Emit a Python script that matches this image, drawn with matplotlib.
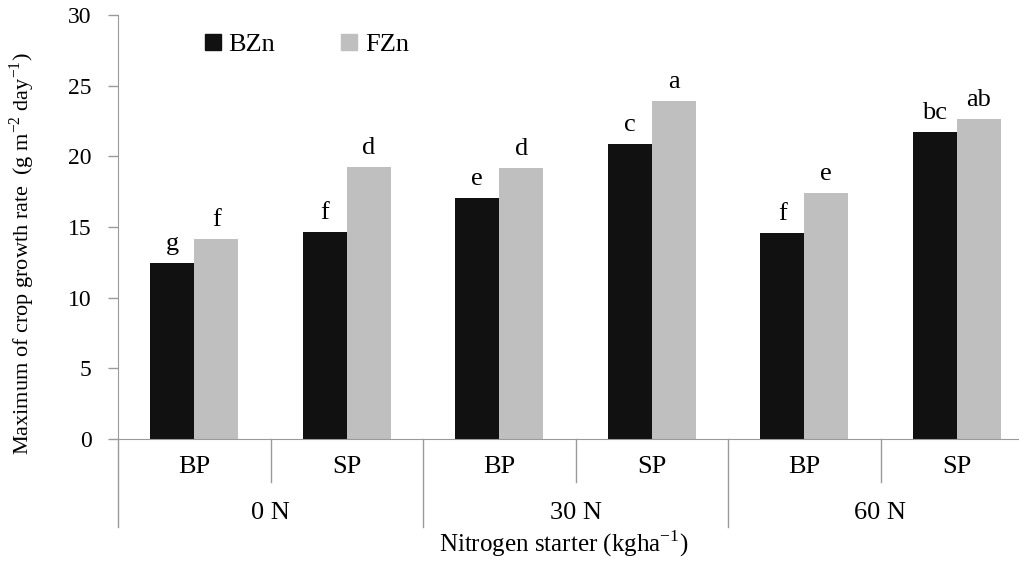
import matplotlib.pyplot as plt
from matplotlib.patches import Patch
import numpy as np

plt.rcParams['font.family'] = ['Liberation Serif', 'DejaVu Serif']
plt.rcParams['mathtext.fontset'] = 'custom'
plt.rcParams['mathtext.rm'] = 'Liberation Serif'

#data
groups = ['0 N', '30 N', '60 N']
subgroups = ['BP', 'SP', 'BP', 'SP', 'BP', 'SP']
bzn = [12.45, 14.65, 17.03, 20.87, 14.58, 21.72]
fzn = [14.17, 19.22, 19.15, 23.9, 17.43, 22.64]
bzn_letters = ['g', 'f', 'e', 'c', 'f', 'bc']
fzn_letters = ['f', 'd', 'd', 'a', 'e', 'ab']

W, H = 1019, 562
fig = plt.figure(figsize=(W/100, H/100), dpi=100)
#axes runs off the right edge like the original
ax = fig.add_axes([118/W, (H-439)/H, (1033-118)/W, 424/H])

axcol = '#9a9a9a'
x = np.arange(len(subgroups)) + 0.5
bw = 0.29
ax.bar(x - bw/2, bzn, bw, color='#111111', label='BZn')
ax.bar(x + bw/2, fzn, bw, color='#bfbfbf', label='FZn')

for xi, v, s in zip(x - bw/2, bzn, bzn_letters):
    ax.annotate(s, (xi, v), xytext=(0, 9.4), textcoords='offset points',
                ha='center', va='baseline', fontsize=19)
for xi, v, s in zip(x + bw/2, fzn, fzn_letters):
    ax.annotate(s, (xi, v), xytext=(0, 9.4), textcoords='offset points',
                ha='center', va='baseline', fontsize=19)

ax.set_xlim(0, len(subgroups))
ax.set_ylim(0, 30)
ax.set_yticks(np.arange(0, 31, 5))
ax.set_xticks([])
ax.tick_params(axis='y', direction='out', length=7, width=1, color=axcol,
               pad=12, labelsize=17)
for side in ['top', 'right']:
    ax.spines[side].set_visible(False)
ax.spines['left'].set_color(axcol)
ax.spines['bottom'].set_color(axcol)

#two level category axis underneath
upp = 30/424.  #data units per pixel
for i in range(len(subgroups) + 1):
    depth = 88 if i % 2 == 0 else 43
    ax.plot([i, i], [0, -depth*upp], color=axcol, lw=1, clip_on=False)
for xi, s in zip(x, subgroups):
    ax.text(xi, -28*upp, s, ha='center', va='center', fontsize=19)
for i, g in enumerate(groups):
    ax.text(2*i + 1, -74*upp, g, ha='center', va='center', fontsize=19)

fig.text(564/W, 1 - 544/H, 'Nitrogen starter (kgha$^{-1}$)', ha='center',
         va='center', fontsize=18)
fig.text(22/W, 1 - 254/H,
         'Maximum of crop growth rate  (g m$^{-2}$ day$^{-1}$)',
         rotation=90, ha='center', va='center', fontsize=16)

handles = [Patch(color='#111111'), Patch(color='#bfbfbf')]
fig.legend(handles, ['BZn', 'FZn'], loc='center left',
           bbox_to_anchor=(181/W, 1 - 45/H), ncol=2, frameon=False,
           fontsize=19, handlelength=0.6, handleheight=0.6,
           handletextpad=0.3, columnspacing=2.5)

plt.savefig('out.png', dpi=100)
